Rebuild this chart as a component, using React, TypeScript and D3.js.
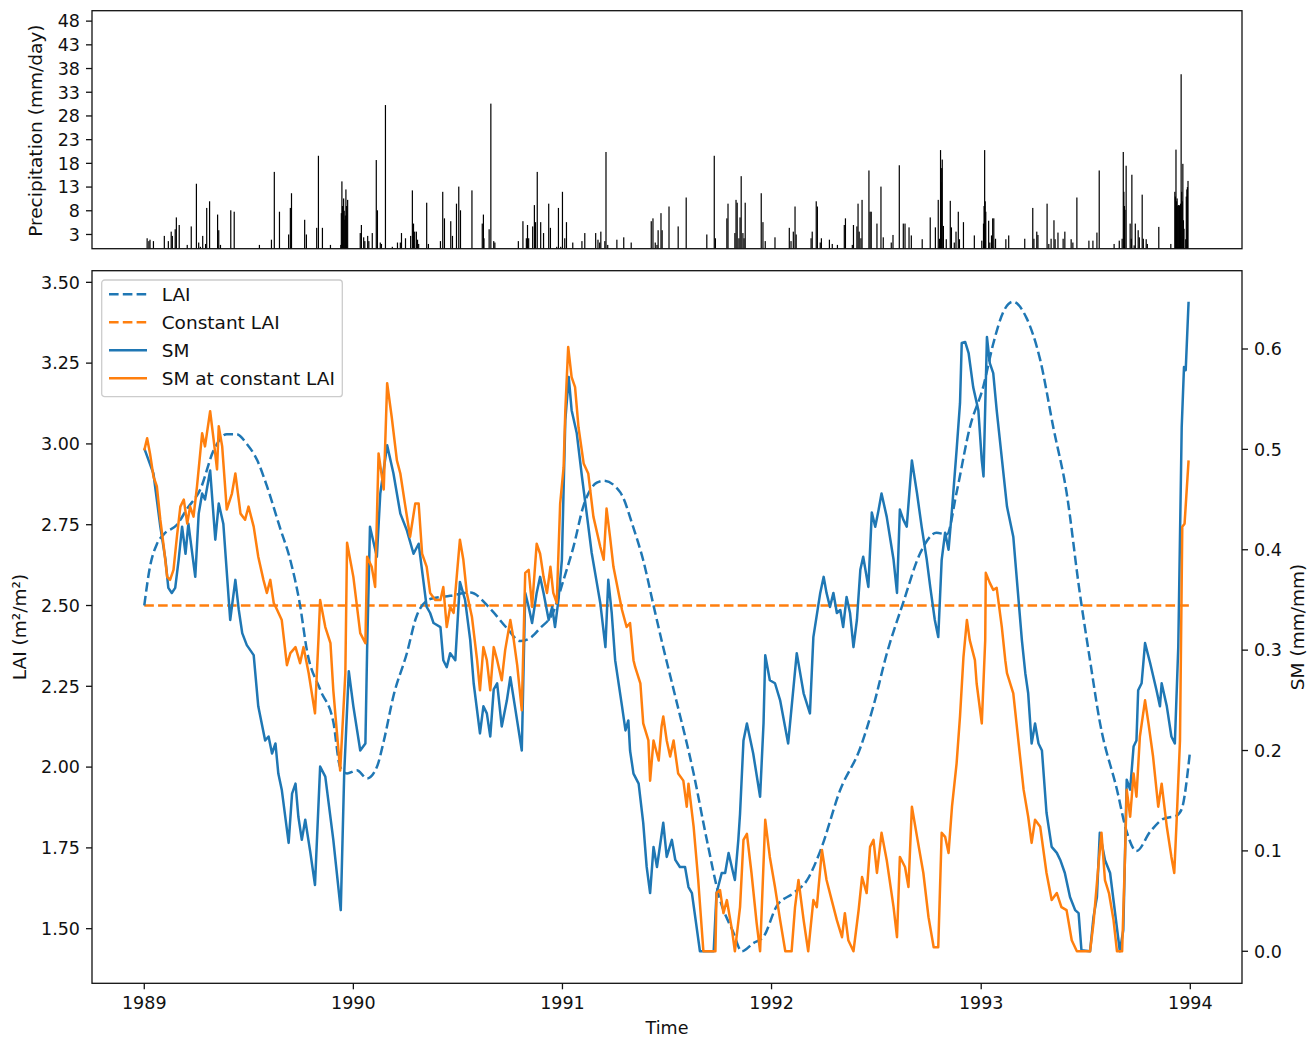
import * as d3 from "d3";
import { useMemo } from "react";

const W = 1307;
const H = 1037;
const LEFT = 92;
const RIGHT = 1242;
const TOP_PANEL = { top: 10.7, bottom: 248.7 };
const MAIN_PANEL = { top: 270.7, bottom: 983.3 };

const FONT = "'DejaVu Sans', sans-serif";
const FS = 17.5;
const FS_LABEL = 18.5;
const INK = "#111";
const BLUE = "#1f77b4";
const ORANGE = "#ff7f0e";

// time axis: day index counted from 1989-01-01
const START = Date.UTC(1989, 0, 1);
const DAY_MS = 864e5;
const LAST_DAY = 1825;
const YEAR_TICKS = [1989, 1990, 1991, 1992, 1993, 1994];

const PRECIP_TICKS = [3, 8, 13, 18, 23, 28, 33, 38, 43, 48];
const LAI_TICKS = [1.5, 1.75, 2.0, 2.25, 2.5, 2.75, 3.0, 3.25, 3.5];
const SM_TICKS = [0, 0.1, 0.2, 0.3, 0.4, 0.5, 0.6];
const PRECIP_MAX = 50.2;
const LAI_LIMITS: [number, number] = [1.331, 3.536];
const SM_LIMITS: [number, number] = [-0.0319, 0.678];
const CONSTANT_LAI = 2.5;

// [day, mm/day]
const PRECIP: [number, number][] = [
  [5, 2.2], [8, 1.6], [10, 1.9], [16, 1.6], [35, 2.7], [42, 1.6], [47, 3.6], [49, 2.7], [54, 4.1], [56, 6.6],
  [61, 5.0], [75, 0.8], [82, 4.7], [91, 13.7], [95, 1.3], [98, 0.4], [102, 2.7], [107, 1.0], [109, 8.6], [114, 10.0],
  [128, 7.2], [130, 3.9], [133, 0.8], [151, 8.1], [157, 7.8], [201, 0.8], [222, 1.9], [227, 16.2], [236, 7.8],
  [252, 3.0], [255, 8.6], [257, 11.7], [280, 6.1], [283, 3.0], [301, 4.4], [304, 19.6], [311, 4.4], [325, 0.8],
  [343, 0.8], [344, 7.5], [345, 14.2], [346, 9.0], [348, 10.6], [349, 8.0], [350, 6.1], [351, 7.0], [352, 12.5],
  [353, 9.0], [355, 10.3], [377, 3.3], [379, 5.0], [383, 2.4], [385, 1.6], [390, 2.7], [392, 1.6], [398, 3.3],
  [405, 18.7], [407, 8.1], [412, 1.3], [414, 1.0], [421, 30.3], [433, 0.4], [442, 1.3], [447, 1.3], [449, 3.3],
  [456, 2.2], [465, 2.7], [468, 12.3], [470, 5.3], [472, 3.6], [475, 3.6], [477, 1.9], [479, 1.0], [493, 9.7],
  [496, 1.0], [517, 1.6], [521, 12.0], [524, 6.4], [535, 5.8], [538, 2.7], [545, 9.5], [549, 13.1], [552, 8.1],
  [572, 12.3], [590, 5.3], [592, 7.2], [593, 2.2], [602, 4.1], [605, 30.6], [610, 1.6], [612, 1.3],
  [653, 1.6], [661, 5.8], [667, 2.2], [669, 5.0], [671, 2.2], [678, 4.7], [681, 9.2], [683, 5.6], [686, 16.2],
  [692, 5.6], [697, 3.3], [706, 9.5], [709, 4.4], [720, 0.4], [723, 8.6], [727, 0.4], [730, 12.0], [734, 2.2],
  [737, 5.6], [748, 1.3], [764, 1.6], [769, 3.3], [788, 3.3], [792, 1.9], [795, 1.3], [797, 3.6], [804, 1.6],
  [806, 20.4], [809, 0.8], [825, 1.9], [837, 2.4], [850, 1.3], [885, 5.8], [888, 6.4], [892, 1.3], [895, 0.8],
  [897, 3.9], [902, 7.5], [904, 3.9], [916, 8.9], [932, 4.7], [946, 10.8], [982, 3.0], [995, 19.6], [997, 2.2],
  [1017, 6.4], [1019, 9.5], [1031, 3.3], [1033, 10.3], [1035, 9.7], [1038, 2.2], [1040, 6.6], [1042, 15.3],
  [1045, 3.3], [1047, 2.2], [1049, 9.7], [1077, 11.7], [1080, 5.6], [1084, 1.6], [1101, 2.4], [1126, 4.4],
  [1129, 1.6], [1133, 3.6], [1136, 8.9], [1138, 3.0], [1164, 2.2], [1166, 3.6], [1173, 10.0], [1175, 8.9],
  [1180, 1.3], [1182, 2.2], [1196, 1.9], [1201, 1.0], [1210, 0.8], [1222, 5.0], [1224, 6.4], [1236, 0.8],
  [1238, 5.0], [1244, 4.7], [1246, 9.5], [1248, 3.6], [1251, 2.2], [1253, 10.3], [1265, 16.5], [1267, 7.8],
  [1269, 7.8], [1279, 5.3], [1286, 13.1], [1290, 2.4], [1304, 1.3], [1307, 2.9], [1318, 17.6], [1325, 5.3],
  [1328, 5.3], [1335, 4.5], [1339, 2.8], [1358, 2.0], [1372, 6.6], [1381, 4.5], [1386, 10.3], [1388, 2.1],
  [1390, 20.8], [1391, 14.0], [1392, 17.0], [1393, 18.8], [1395, 4.8], [1400, 2.0], [1407, 10.1], [1409, 4.5],
  [1414, 1.3], [1417, 3.6], [1421, 7.8], [1423, 2.0], [1430, 5.6], [1449, 2.8], [1462, 1.7], [1465, 5.3],
  [1466, 9.0], [1467, 20.8], [1468, 10.0], [1469, 7.8], [1474, 5.9], [1476, 1.3], [1479, 2.8], [1481, 6.4],
  [1483, 6.4], [1486, 2.1], [1504, 2.0], [1509, 2.8], [1537, 2.1], [1551, 8.6], [1553, 2.1], [1558, 3.6],
  [1560, 2.9], [1576, 9.5], [1579, 1.0], [1583, 2.1], [1588, 6.0], [1590, 2.0], [1595, 3.4], [1604, 2.1],
  [1607, 3.6], [1618, 2.0], [1621, 1.3], [1628, 10.8], [1649, 1.7], [1656, 1.7], [1663, 3.4], [1667, 16.5],
  [1693, 1.0], [1702, 1.7], [1707, 2.1], [1709, 20.4], [1710, 12.0], [1711, 9.0], [1712, 8.2], [1714, 17.5],
  [1721, 5.3], [1723, 2.1], [1724, 15.6], [1728, 0.7], [1730, 5.3], [1735, 3.9], [1737, 2.4], [1742, 11.4],
  [1744, 2.1], [1749, 2.0], [1751, 1.0], [1771, 4.6], [1792, 1.0], [1799, 12.0], [1800, 11.0], [1801, 20.9],
  [1802, 10.0], [1803, 10.6], [1804, 9.0], [1805, 9.2], [1806, 9.2], [1807, 9.0], [1808, 9.2], [1809, 9.5],
  [1810, 36.8], [1811, 12.0], [1812, 10.0], [1813, 17.9], [1814, 6.0], [1815, 4.2], [1818, 2.0], [1819, 11.0],
  [1820, 12.5], [1821, 13.0], [1822, 14.3],
];

// [day, LAI m²/m²]
const LAI: [number, number][] = [
  [0, 2.5], [10, 2.62], [22, 2.69], [34, 2.72], [57, 2.75], [75, 2.8], [98, 2.86], [121, 2.98], [144, 3.03],
  [161, 3.03], [179, 3.0], [197, 2.95], [214, 2.87], [237, 2.74], [255, 2.64], [272, 2.5], [284, 2.36],
  [307, 2.24], [330, 2.14], [342, 2.0], [354, 1.98], [371, 1.99], [389, 1.965], [406, 2.0], [418, 2.08],
  [435, 2.22], [458, 2.35], [476, 2.47], [499, 2.52], [534, 2.53], [569, 2.54], [604, 2.49], [633, 2.43],
  [656, 2.39], [674, 2.4], [691, 2.43], [714, 2.48], [732, 2.58], [749, 2.68], [767, 2.81], [790, 2.88],
  [802, 2.886], [831, 2.85], [854, 2.74], [871, 2.64], [889, 2.5], [906, 2.37], [924, 2.24], [959, 1.98],
  [982, 1.775], [1005, 1.59], [1028, 1.49], [1043, 1.43], [1063, 1.455], [1081, 1.475], [1104, 1.57],
  [1133, 1.61], [1157, 1.65], [1180, 1.74], [1215, 1.93], [1250, 2.06], [1273, 2.19], [1296, 2.35],
  [1325, 2.51], [1354, 2.66], [1383, 2.725], [1401, 2.72], [1418, 2.85], [1441, 3.05], [1465, 3.18],
  [1482, 3.31], [1500, 3.41], [1516, 3.44], [1540, 3.39], [1564, 3.26], [1587, 3.05], [1610, 2.85],
  [1633, 2.54], [1651, 2.33], [1668, 2.14], [1698, 1.93], [1715, 1.8], [1732, 1.74], [1756, 1.8],
  [1779, 1.84], [1802, 1.85], [1811, 1.87], [1825, 2.04],
];

// [day, SM mm/mm]
const SM: [number, number][] = [
  [0, 0.501], [16, 0.476], [28, 0.423], [37, 0.39], [42, 0.362], [48, 0.357], [54, 0.362], [60, 0.39],
  [66, 0.423], [72, 0.396], [77, 0.426], [89, 0.373], [95, 0.436], [101, 0.456], [106, 0.45], [115, 0.479],
  [124, 0.41], [130, 0.446], [138, 0.426], [150, 0.33], [159, 0.37], [165, 0.34], [171, 0.317], [179, 0.305],
  [191, 0.295], [199, 0.244], [211, 0.21], [217, 0.214], [223, 0.197], [229, 0.207], [234, 0.177],
  [240, 0.161], [252, 0.108], [258, 0.157], [264, 0.167], [269, 0.134], [275, 0.111], [281, 0.131],
  [290, 0.098], [298, 0.066], [307, 0.184], [316, 0.174], [330, 0.111], [343, 0.041], [349, 0.177],
  [357, 0.279], [365, 0.244], [377, 0.2], [386, 0.207], [389, 0.3], [394, 0.423], [406, 0.393], [412, 0.456],
  [424, 0.504], [435, 0.476], [447, 0.436], [458, 0.42], [470, 0.396], [479, 0.406], [487, 0.37],
  [493, 0.343], [499, 0.337], [505, 0.327], [517, 0.323], [522, 0.29], [528, 0.283], [534, 0.297],
  [543, 0.29], [551, 0.368], [560, 0.35], [569, 0.31], [575, 0.267], [586, 0.217], [592, 0.244],
  [598, 0.237], [604, 0.214], [610, 0.261], [616, 0.267], [624, 0.224], [633, 0.25], [639, 0.273],
  [647, 0.244], [659, 0.2], [665, 0.357], [671, 0.343], [677, 0.327], [685, 0.357], [691, 0.373],
  [697, 0.357], [706, 0.33], [712, 0.343], [717, 0.323], [723, 0.35], [729, 0.39], [735, 0.529],
  [741, 0.572], [746, 0.539], [755, 0.516], [764, 0.473], [773, 0.433], [781, 0.397], [790, 0.367],
  [796, 0.347], [805, 0.303], [810, 0.37], [816, 0.337], [822, 0.29], [834, 0.244], [840, 0.22],
  [845, 0.23], [848, 0.2], [854, 0.177], [863, 0.167], [871, 0.128], [877, 0.084], [883, 0.058],
  [889, 0.104], [895, 0.084], [906, 0.128], [912, 0.094], [921, 0.111], [927, 0.091], [935, 0.084],
  [944, 0.084], [950, 0.064], [956, 0.058], [970, 0.0], [994, 0.0], [999, 0.058], [1008, 0.078],
  [1014, 0.078], [1020, 0.098], [1028, 0.078], [1031, 0.071], [1037, 0.111], [1040, 0.137], [1046, 0.21],
  [1052, 0.227], [1063, 0.197], [1075, 0.154], [1081, 0.227], [1084, 0.295], [1092, 0.27], [1101, 0.267],
  [1110, 0.25], [1124, 0.207], [1139, 0.297], [1151, 0.257], [1162, 0.237], [1168, 0.313], [1180, 0.357],
  [1186, 0.373], [1191, 0.357], [1197, 0.343], [1203, 0.357], [1209, 0.337], [1215, 0.34], [1220, 0.323],
  [1226, 0.353], [1232, 0.337], [1238, 0.303], [1244, 0.33], [1250, 0.38], [1255, 0.393], [1264, 0.363],
  [1270, 0.437], [1276, 0.423], [1281, 0.437], [1287, 0.456], [1296, 0.433], [1308, 0.39], [1314, 0.357],
  [1319, 0.44], [1325, 0.43], [1331, 0.423], [1340, 0.489], [1349, 0.456], [1357, 0.423], [1366, 0.39],
  [1372, 0.363], [1380, 0.33], [1386, 0.313], [1392, 0.39], [1398, 0.417], [1404, 0.4], [1410, 0.44],
  [1418, 0.499], [1424, 0.546], [1427, 0.606], [1433, 0.607], [1439, 0.596], [1447, 0.562], [1456, 0.539],
  [1462, 0.489], [1465, 0.473], [1471, 0.612], [1476, 0.586], [1482, 0.576], [1488, 0.539], [1506, 0.443],
  [1517, 0.413], [1532, 0.31], [1538, 0.277], [1543, 0.257], [1549, 0.207], [1555, 0.227], [1561, 0.207],
  [1567, 0.2], [1575, 0.138], [1584, 0.104], [1593, 0.098], [1599, 0.091], [1607, 0.078], [1616, 0.054],
  [1625, 0.041], [1631, 0.038], [1636, 0.001], [1651, 0.0], [1657, 0.034], [1663, 0.054], [1668, 0.118],
  [1677, 0.091], [1686, 0.078], [1703, 0.0], [1709, 0.021], [1715, 0.171], [1721, 0.161], [1727, 0.204],
  [1732, 0.21], [1735, 0.26], [1741, 0.267], [1747, 0.307], [1756, 0.287], [1767, 0.26], [1773, 0.244],
  [1776, 0.267], [1785, 0.244], [1793, 0.214], [1799, 0.207], [1805, 0.303], [1811, 0.522], [1815, 0.582],
  [1818, 0.579], [1823, 0.647],
];

// [day, SM mm/mm] with LAI held constant
const SM_CONST: [number, number][] = [
  [0, 0.499], [5, 0.511], [10, 0.496], [16, 0.473], [22, 0.463], [28, 0.43], [34, 0.403], [40, 0.373],
  [45, 0.37], [51, 0.38], [57, 0.413], [63, 0.443], [69, 0.45], [75, 0.426], [80, 0.443], [86, 0.433],
  [92, 0.463], [101, 0.516], [106, 0.503], [115, 0.538], [121, 0.51], [127, 0.48], [130, 0.523],
  [136, 0.503], [144, 0.44], [153, 0.456], [159, 0.476], [168, 0.436], [176, 0.43], [182, 0.443],
  [191, 0.423], [199, 0.393], [208, 0.37], [214, 0.357], [220, 0.37], [226, 0.347], [232, 0.34],
  [240, 0.33], [249, 0.285], [255, 0.297], [264, 0.303], [272, 0.287], [278, 0.303], [287, 0.277],
  [298, 0.237], [304, 0.31], [307, 0.35], [316, 0.323], [325, 0.307], [330, 0.26], [342, 0.18],
  [351, 0.277], [354, 0.407], [365, 0.373], [377, 0.317], [386, 0.307], [389, 0.393], [397, 0.383],
  [403, 0.363], [409, 0.496], [418, 0.46], [424, 0.566], [432, 0.532], [441, 0.489], [447, 0.476],
  [455, 0.446], [464, 0.413], [473, 0.446], [479, 0.446], [485, 0.396], [493, 0.383], [499, 0.357],
  [508, 0.35], [517, 0.35], [522, 0.363], [528, 0.323], [534, 0.343], [540, 0.337], [546, 0.377],
  [551, 0.41], [557, 0.39], [563, 0.357], [572, 0.333], [581, 0.29], [586, 0.26], [592, 0.303],
  [598, 0.29], [604, 0.26], [610, 0.303], [616, 0.29], [624, 0.27], [630, 0.3], [639, 0.33], [645, 0.31],
  [651, 0.285], [659, 0.24], [665, 0.377], [671, 0.38], [677, 0.343], [685, 0.406], [691, 0.396],
  [697, 0.373], [703, 0.357], [709, 0.383], [714, 0.357], [720, 0.347], [726, 0.446], [732, 0.482],
  [735, 0.539], [740, 0.602], [746, 0.572], [752, 0.562], [758, 0.522], [767, 0.486], [775, 0.476],
  [784, 0.433], [796, 0.403], [802, 0.39], [807, 0.441], [813, 0.413], [819, 0.383], [828, 0.357],
  [834, 0.34], [842, 0.323], [848, 0.327], [854, 0.29], [857, 0.283], [866, 0.267], [871, 0.227],
  [880, 0.21], [883, 0.17], [889, 0.21], [898, 0.19], [903, 0.224], [906, 0.234], [912, 0.21],
  [918, 0.194], [924, 0.21], [932, 0.177], [941, 0.17], [947, 0.144], [950, 0.167], [959, 0.124],
  [967, 0.071], [976, 0.0], [997, 0.0], [999, 0.058], [1005, 0.061], [1011, 0.038], [1017, 0.051],
  [1026, 0.021], [1031, 0.0], [1040, 0.044], [1046, 0.111], [1052, 0.117], [1060, 0.078], [1069, 0.028],
  [1075, 0.0], [1084, 0.131], [1092, 0.094], [1101, 0.064], [1110, 0.031], [1119, 0.0], [1130, 0.0],
  [1136, 0.044], [1142, 0.071], [1151, 0.031], [1159, 0.0], [1168, 0.051], [1174, 0.044], [1183, 0.101],
  [1191, 0.071], [1200, 0.051], [1209, 0.031], [1218, 0.014], [1223, 0.038], [1229, 0.011], [1238, 0.0],
  [1247, 0.041], [1253, 0.074], [1261, 0.058], [1267, 0.104], [1273, 0.111], [1279, 0.078], [1287, 0.118],
  [1296, 0.091], [1308, 0.044], [1314, 0.014], [1319, 0.094], [1328, 0.084], [1334, 0.064], [1340, 0.144],
  [1349, 0.114], [1360, 0.078], [1369, 0.034], [1378, 0.004], [1386, 0.004], [1392, 0.118], [1398, 0.114],
  [1404, 0.098], [1410, 0.144], [1418, 0.187], [1424, 0.234], [1430, 0.293], [1436, 0.33], [1441, 0.31],
  [1450, 0.29], [1453, 0.267], [1462, 0.227], [1468, 0.31], [1469, 0.377], [1476, 0.367], [1482, 0.36],
  [1488, 0.362], [1497, 0.323], [1503, 0.29], [1506, 0.277], [1517, 0.257], [1535, 0.161], [1543, 0.134],
  [1549, 0.108], [1555, 0.131], [1564, 0.124], [1575, 0.078], [1584, 0.051], [1593, 0.058], [1601, 0.044],
  [1610, 0.041], [1619, 0.011], [1628, 0.0], [1651, 0.0], [1657, 0.028], [1666, 0.088], [1671, 0.118],
  [1677, 0.071], [1684, 0.058], [1692, 0.031], [1698, 0.0], [1707, 0.0], [1712, 0.094], [1715, 0.161],
  [1721, 0.134], [1727, 0.177], [1732, 0.154], [1738, 0.214], [1747, 0.25], [1753, 0.227], [1761, 0.194],
  [1770, 0.144], [1776, 0.167], [1785, 0.124], [1793, 0.094], [1798, 0.078], [1802, 0.128], [1808, 0.21],
  [1812, 0.423], [1816, 0.426], [1823, 0.489],
];

const LEGEND = [
  { label: "LAI", color: BLUE, dashed: true },
  { label: "Constant LAI", color: ORANGE, dashed: true },
  { label: "SM", color: BLUE, dashed: false },
  { label: "SM at constant LAI", color: ORANGE, dashed: false },
];

const day = (d: number) => new Date(START + d * DAY_MS);

export default function App() {
  const x = useMemo(() => {
    const t0 = START;
    const t1 = START + LAST_DAY * DAY_MS;
    const pad = (t1 - t0) * 0.05;
    return d3.scaleUtc().domain([new Date(t0 - pad), new Date(t1 + pad)]).range([LEFT, RIGHT]);
  }, []);
  const yP = d3.scaleLinear().domain([0, PRECIP_MAX]).range([TOP_PANEL.bottom, TOP_PANEL.top]);
  const yL = d3.scaleLinear().domain(LAI_LIMITS).range([MAIN_PANEL.bottom, MAIN_PANEL.top]);
  const yS = d3.scaleLinear().domain(SM_LIMITS).range([MAIN_PANEL.bottom, MAIN_PANEL.top]);

  const laiLine = d3
    .line<[number, number]>()
    .x((d) => x(day(d[0])))
    .y((d) => yL(d[1]))
    .curve(d3.curveMonotoneX);
  const smLine = d3
    .line<[number, number]>()
    .x((d) => x(day(d[0])))
    .y((d) => yS(d[1]));

  const dash = "9.6 4.2";
  const lw = 2.5;
  const spine = 1.3;
  const tick = 6;

  const text = { fontFamily: FONT, fontSize: FS, fill: INK };
  const label = { fontFamily: FONT, fontSize: FS_LABEL, fill: INK };

  return (
    <svg
      width={W}
      height={H}
      viewBox={`0 0 ${W} ${H}`}
      style={{ position: "absolute", left: 0, top: 0, background: "#fff" }}
    >
      <rect width={W} height={H} fill="#fff" />

      {/* Precipitation panel */}
      <g>
        {PRECIP.map(([d, v]) => (
          <rect
            key={`p${d}`}
            x={x(day(d)) - 0.6}
            y={yP(v)}
            width={1.2}
            height={yP(0) - yP(v)}
            fill="#000"
          />
        ))}
        {PRECIP_TICKS.map((t) => (
          <g key={`pt${t}`}>
            <line x1={LEFT - tick} x2={LEFT} y1={yP(t)} y2={yP(t)} stroke={INK} strokeWidth={spine} />
            <text {...text} x={LEFT - tick - 6} y={yP(t)} dy="0.36em" textAnchor="end">
              {t}
            </text>
          </g>
        ))}
        <rect
          x={LEFT}
          y={TOP_PANEL.top}
          width={RIGHT - LEFT}
          height={TOP_PANEL.bottom - TOP_PANEL.top}
          fill="none"
          stroke={INK}
          strokeWidth={spine}
        />
        <text
          {...label}
          transform={`translate(42,${(TOP_PANEL.top + TOP_PANEL.bottom) / 2 + 1}) rotate(-90)`}
          textAnchor="middle"
        >
          Precipitation (mm/day)
        </text>
      </g>

      {/* LAI / SM panel */}
      <g>
        <path
          d={laiLine([[0, CONSTANT_LAI], [LAST_DAY, CONSTANT_LAI]]) ?? ""}
          fill="none"
          stroke={ORANGE}
          strokeWidth={lw}
          strokeDasharray={dash}
        />
        <path d={laiLine(LAI) ?? ""} fill="none" stroke={BLUE} strokeWidth={lw} strokeDasharray={dash} />
        <path d={smLine(SM) ?? ""} fill="none" stroke={BLUE} strokeWidth={lw} strokeLinejoin="round" />
        <path d={smLine(SM_CONST) ?? ""} fill="none" stroke={ORANGE} strokeWidth={lw} strokeLinejoin="round" />

        <rect
          x={LEFT}
          y={MAIN_PANEL.top}
          width={RIGHT - LEFT}
          height={MAIN_PANEL.bottom - MAIN_PANEL.top}
          fill="none"
          stroke={INK}
          strokeWidth={spine}
        />

        {LAI_TICKS.map((t) => (
          <g key={`lt${t}`}>
            <line x1={LEFT - tick} x2={LEFT} y1={yL(t)} y2={yL(t)} stroke={INK} strokeWidth={spine} />
            <text {...text} x={LEFT - tick - 6} y={yL(t)} dy="0.36em" textAnchor="end">
              {t.toFixed(2)}
            </text>
          </g>
        ))}
        {SM_TICKS.map((t) => (
          <g key={`st${t}`}>
            <line x1={RIGHT} x2={RIGHT + tick} y1={yS(t)} y2={yS(t)} stroke={INK} strokeWidth={spine} />
            <text {...text} x={RIGHT + tick + 6} y={yS(t)} dy="0.36em" textAnchor="start">
              {t.toFixed(1)}
            </text>
          </g>
        ))}
        {YEAR_TICKS.map((yr) => {
          const px = x(new Date(Date.UTC(yr, 0, 1)));
          return (
            <g key={`yr${yr}`}>
              <line x1={px} x2={px} y1={MAIN_PANEL.bottom} y2={MAIN_PANEL.bottom + tick} stroke={INK} strokeWidth={spine} />
              <text {...text} x={px} y={MAIN_PANEL.bottom + tick + 20} textAnchor="middle">
                {yr}
              </text>
            </g>
          );
        })}

        <text {...text} x={(LEFT + RIGHT) / 2} y={1034} textAnchor="middle">
          Time
        </text>
        <text
          {...label}
          transform={`translate(26,${(MAIN_PANEL.top + MAIN_PANEL.bottom) / 2}) rotate(-90)`}
          textAnchor="middle"
        >
          LAI (m²/m²)
        </text>
        <text
          {...label}
          transform={`translate(1304,${(MAIN_PANEL.top + MAIN_PANEL.bottom) / 2}) rotate(-90)`}
          textAnchor="middle"
        >
          SM (mm/mm)
        </text>

        {/* Legend */}
        <g transform="translate(101.7,280)">
          <rect
            width={240.6}
            height={116.7}
            rx={3}
            fill="#fff"
            fillOpacity={0.8}
            stroke="#cccccc"
            strokeWidth={1.3}
          />
          {LEGEND.map((item, i) => {
            const cy = 14.3 + i * 28;
            return (
              <g key={item.label}>
                <line
                  x1={7.3}
                  x2={45.3}
                  y1={cy}
                  y2={cy}
                  stroke={item.color}
                  strokeWidth={lw}
                  strokeDasharray={item.dashed ? dash : undefined}
                />
                <text {...label} x={60} y={cy} dy="0.36em">
                  {item.label}
                </text>
              </g>
            );
          })}
        </g>
      </g>
    </svg>
  );
}
